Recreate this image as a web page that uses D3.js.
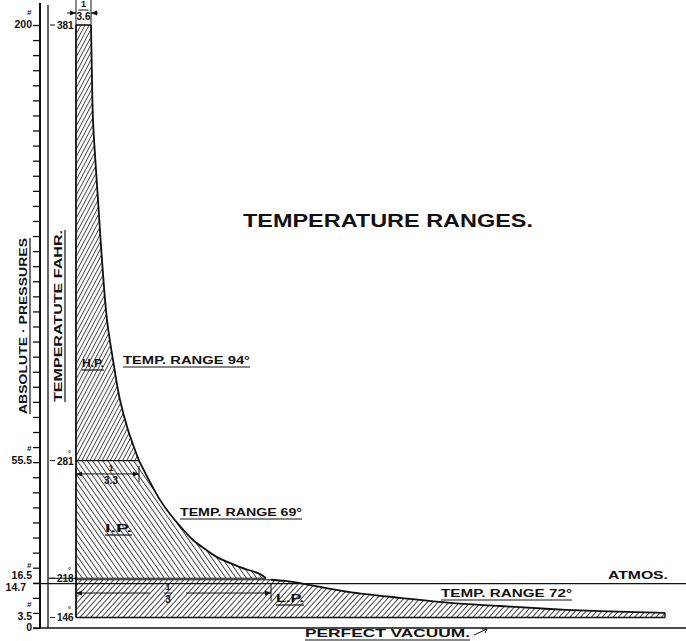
<!DOCTYPE html>
<html>
<head>
<meta charset="utf-8">
<style>
  body { margin: 0; background: #fff; }
  svg text { font-family: "Liberation Sans", "DejaVu Sans", sans-serif; fill: #111; }
</style>
</head>
<body>
<div id="chart"></div>
<script src="https://cdn.jsdelivr.net/npm/d3@7"></script>
<script>
// expansion curves (volume in arbitrary units, pressure in lb abs)
const hpVol = [1.5, 1.6, 1.7, 2.0, 2.2, 2.6, 3.1, 3.7, 4.4, 5.2, 6.3]
const hpPress = [200, 181.8, 168.5, 151.9, 142, 122, 102.2, 88.9, 75.6, 65.7, 55.5]

const ipVol = [6.3, 7.4, 8.4, 9.4, 10.4, 11.7, 12.9, 14.1, 16.4, 18.4, 19.0]
const ipPress = [55.5, 48.4, 42.5, 37.8, 33.8, 29.2, 26.2, 23.5, 20.2, 17.9, 16.5]

const lpVol = [19.5, 20.9, 22.4, 24.9, 27.4, 32.4, 37.4, 42.4, 47.4, 52.4, 58.9]
const lpPress = [16.0, 15.6, 14.9, 13.3, 11.9, 10.0, 8.3, 7.3, 6.3, 5.6, 5.0]

// axis labels
const pressValues = [200, 55.5, 16.5, 14.7, 3.5, 0]
const pressLabels = ['200', '55.5', '16.5', '14.7', '3.5', '0']
const tempPress = [200, 55.5, 16.5, 3.5]
const tempLabels = ['381', '281', '218', '146']
const atmos = 14.7
const lpBottom = 3.5

const cylinders = ['H.P.', 'I.P.', 'L.P.']
const ranges = [94, 69, 72]
const cutoffs = ['3.6', '3.3', '3']

const width = 686
const height = 641

const x = d3.scaleLinear().domain([0, 60]).range([76, 676])
const y = d3.scaleLinear().domain([0, 200]).range([628, 25])

const svg = d3.select('#chart').append('svg')
  .attr('width', width)
  .attr('height', height)

const defs = svg.append('defs')
function hatch(id, gap, angle) {
  defs.append('pattern')
    .attr('id', id)
    .attr('patternUnits', 'userSpaceOnUse')
    .attr('width', gap).attr('height', 10)
    .attr('patternTransform', 'rotate(' + angle + ')')
    .append('line')
    .attr('x1', 0.5).attr('x2', 0.5).attr('y1', 0).attr('y2', 10)
    .attr('stroke', '#333').attr('stroke-width', 0.9)
}
hatch('hp', 3.6, 28)
hatch('ip', 4.2, -35)
hatch('lp', 4.0, 42)

const curve = d3.line().x(d => x(d[0])).y(d => y(d[1])).curve(d3.curveCatmullRom)
const pts = (v, p) => v.map((d, i) => [d, p[i]])
const P = (v, p) => x(v) + ',' + y(p)

const hpPts = pts(hpVol, hpPress)
const ipPts = pts(ipVol, ipPress)
const lpPts = pts(lpVol, lpPress)
const lpEnd = lpVol[lpVol.length - 1]

// filled areas
svg.append('path')
  .attr('d', curve(hpPts) + 'L' + P(0, 55.5) + 'L' + P(0, 200) + 'Z')
  .attr('fill', 'url(#hp)')
svg.append('path')
  .attr('d', curve(ipPts) + 'L' + P(0, 16.5) + 'L' + P(0, 55.5) + 'Z')
  .attr('fill', 'url(#ip)')
svg.append('path')
  .attr('d', curve(lpPts) + 'L' + P(lpEnd, lpBottom) + 'L' + P(0, lpBottom) + 'L' + P(0, 16.0) + 'Z')
  .attr('fill', 'url(#lp)')

// outlines
const ink = '#111'
function seg(x1, y1, x2, y2, w) {
  svg.append('line')
    .attr('x1', x1).attr('y1', y1).attr('x2', x2).attr('y2', y2)
    .attr('stroke', ink).attr('stroke-width', w || 1.2)
}
;[hpPts, ipPts, lpPts].forEach(p => {
  svg.append('path').attr('d', curve(p)).attr('fill', 'none')
    .attr('stroke', ink).attr('stroke-width', 1.8)
})
seg(x(0), y(200), x(hpVol[0]), y(200), 1.6)
seg(x(0), y(200), x(0), y(lpBottom), 1.8)
seg(x(0), y(55.5), x(6.4), y(55.5), 1.3)
seg(x(0), y(16.5), x(19.0), y(16.5), 1.2)
seg(x(0), y(16.0), x(19.5), y(16.0), 1.0)
seg(x(0), y(lpBottom), x(lpEnd), y(lpBottom), 1.4)
seg(x(lpEnd), y(lpBottom), x(lpEnd), y(lpPress[lpPress.length - 1]), 1.4)

// atmos and vacuum lines
seg(33, y(atmos), width, y(atmos), 1.2)
seg(33, y(0), width, y(0), 1.4)

// pressure axis with minor ticks
const pAxis = d3.axisLeft(y).tickValues(d3.range(0, 201, 5)).tickSize(7).tickFormat('')
const gA = svg.append('g').attr('transform', 'translate(40,0)').call(pAxis)
gA.select('.domain').remove()
gA.selectAll('line').attr('stroke', ink).attr('stroke-width', 1.3)
seg(40, 3, 40, y(0), 2)
seg(48, 5, 48, y(0), 1.3)

// pressure labels
const pDy = { 16.5: 1, 14.7: 7 }
const pDx = { 14.7: 26 }
svg.selectAll('.plab').data(pressValues).enter().append('text')
  .attr('class', 'plab')
  .attr('x', d => pDx[d] || 32)
  .attr('y', d => y(d) + (pDy[d] !== undefined ? pDy[d] : 3))
  .attr('text-anchor', 'end')
  .attr('font-size', 10.5).attr('font-weight', 'bold')
  .text((d, i) => pressLabels[i])
svg.selectAll('.phash').data([200, 55.5, 16.5, 3.5]).enter().append('text')
  .attr('x', 27).attr('y', d => y(d) - 10)
  .attr('font-size', 8).attr('font-weight', 'bold')
  .text('#')

// temperature labels
svg.selectAll('.tlab').data(tempPress).enter().append('text')
  .attr('x', 57).attr('y', d => y(d) + 4)
  .attr('font-size', 10).attr('font-weight', 'bold')
  .text((d, i) => tempLabels[i])
tempPress.forEach((p, i) => {
  seg(50, y(p), 55, y(p), 1)
  if (i > 0) {
    svg.append('text').attr('x', 68).attr('y', y(p) - 5)
      .attr('font-size', 7).attr('font-weight', 'bold').text('°')
  }
})
seg(48, y(16.5), 76, y(16.5), 1)

// rotated axis titles
function vlabel(cx, cy, txt, len) {
  const g = svg.append('g').attr('transform', 'translate(' + cx + ',' + cy + ') rotate(-90)')
  g.append('text').attr('text-anchor', 'middle')
    .attr('font-size', 11).attr('font-weight', 'bold')
    .attr('textLength', len).attr('lengthAdjust', 'spacingAndGlyphs')
    .text(txt)
  g.append('line').attr('x1', -len / 2).attr('x2', len / 2).attr('y1', 3).attr('y2', 3)
    .attr('stroke', ink).attr('stroke-width', 1.2)
}
vlabel(27, 326, 'ABSOLUTE · PRESSURES', 176)
vlabel(62, 316, 'TEMPERATUTE  FAHR.', 172)

// title
svg.append('text')
  .attr('x', 243).attr('y', 227)
  .attr('font-family', '"DejaVu Sans", sans-serif')
  .attr('font-size', 18).attr('font-weight', 'bold')
  .attr('textLength', 290).attr('lengthAdjust', 'spacingAndGlyphs')
  .text('TEMPERATURE RANGES.')

// small hand lettering with underline
function note(tx, ty, txt, len, under) {
  svg.append('text').attr('x', tx).attr('y', ty)
    .attr('font-size', 10).attr('font-weight', 'bold')
    .attr('textLength', len).attr('lengthAdjust', 'spacingAndGlyphs')
    .text(txt)
  if (under) seg(tx, ty + 3, tx + len, ty + 3, 1.2)
}
note(82, 367, cylinders[0], 22, true)
note(105, 532, cylinders[1], 27, true)
note(276, 602, cylinders[2], 28, true)
note(123, 364, 'TEMP. RANGE ' + ranges[0] + '°', 127, true)
note(180, 516, 'TEMP. RANGE ' + ranges[1] + '°', 122, true)
note(441, 597, 'TEMP. RANGE ' + ranges[2] + '°', 131, true)
note(608, 579, 'ATMOS.', 60, false)
note(305, 637, 'PERFECT  VACUUM.', 165, true)
seg(474, 635, 487, 629, 1)
seg(487, 629, 482, 629, 1)
seg(487, 629, 485, 633, 1)

// cut-off dimension marks
function arrowHead(ax, ay, dir) {
  svg.append('path')
    .attr('d', 'M' + ax + ',' + ay + 'l' + (-6 * dir) + ',-2.5l0,5Z')
    .attr('fill', ink)
}
function fraction(cx, cy, den, bar) {
  svg.append('text').attr('x', cx).attr('y', cy - 3).attr('text-anchor', 'middle')
    .attr('font-size', 9).attr('font-weight', 'bold').text('1')
  svg.append('text').attr('x', cx).attr('y', cy + 10).attr('text-anchor', 'middle')
    .attr('font-size', 10).attr('font-weight', 'bold').text(den)
  if (bar) seg(cx - bar, cy, cx + bar, cy, 1)
}
// H.P. cut-off, above the diagram
seg(x(0), 0, x(0), y(200), 1)
seg(x(hpVol[0]), 0, x(hpVol[0]), y(200), 1)
seg(67, 13, x(0), 13, 1); arrowHead(x(0), 13, 1)
seg(x(hpVol[0]) + 7, 13, x(hpVol[0]), 13, 1); arrowHead(x(hpVol[0]), 13, -1)
fraction((x(0) + x(hpVol[0])) / 2, 10, cutoffs[0], 5)

// I.P. cut-off
const ipy = y(51.1)
seg(x(0), ipy, x(6.3), ipy, 1)
arrowHead(x(0), ipy, -1); arrowHead(x(6.3), ipy, 1)
seg(x(6.3), ipy - 8, x(6.3), ipy + 8, 1)
fraction(111, ipy, cutoffs[1], 0)

// L.P. cut-off
const lpy = y(11.6)
seg(x(0), lpy, 150, lpy, 1)
seg(186, lpy, x(19.5), lpy, 1)
arrowHead(x(0), lpy, -1); arrowHead(x(19.5), lpy, 1)
seg(x(19.5), lpy - 10, x(19.5), lpy + 8, 1)
fraction(168, lpy, cutoffs[2], 4)
</script>
</body>
</html>
